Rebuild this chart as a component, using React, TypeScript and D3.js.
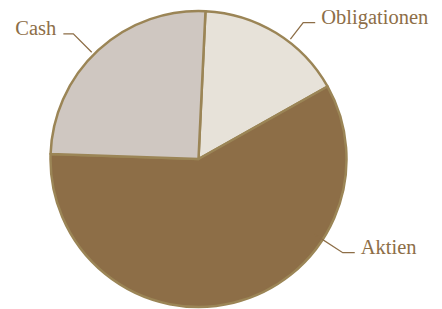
import { arc, pie } from 'd3'

const width = 442
const height = 309
const centerX = 198.5
const centerY = 159
const radius = 148

// slices in clockwise order, starting just right of 12 o'clock
const categories = ['Obligationen', 'Aktien', 'Cash']
const values = [16.1, 58.7, 25.2]
const colors = ['#e7e2d9', '#8d6e47', '#cfc7c1']
// where each label's connector leaves the pie, degrees clockwise from top
const labelAngles = [37.5, 123, 315]

const startAngle = (2.7 * Math.PI) / 180

const pieArc = arc<any>().innerRadius(0).outerRadius(radius)

const polar = (deg: number, r: number) => {
  const a = (deg * Math.PI) / 180
  return [Math.sin(a) * r, -Math.cos(a) * r]
}

function App() {
  const slices = pie<number>()
    .sort(null)
    .startAngle(startAngle)
    .endAngle(startAngle + 2 * Math.PI)(values)

  return (
    <svg
      width={width}
      height={height}
      style={{ position: 'absolute', left: 0, top: 0 }}
    >
      <g transform={`translate(${centerX},${centerY})`}>
        {slices.map((d, i) => (
          <path
            key={categories[i]}
            d={pieArc(d) as string}
            fill={colors[i]}
            stroke="#9b8556"
            strokeWidth={2.5}
            strokeLinejoin="round"
          />
        ))}
        {categories.map((name, i) => {
          const deg = labelAngles[i]
          const right = deg < 180
          const [x0, y0] = polar(deg, i === 1 ? radius - 10 : radius + 3)
          const [x1, y1] = polar(deg, right ? radius + 24 : radius + 29)
          const x2 = x1 + (right ? 12 : -10)
          const tx = x2 + (right ? 6 : -7)
          return (
            <g key={name}>
              <polyline
                points={`${x0},${y0} ${x1},${y1} ${x2},${y1}`}
                fill="none"
                stroke="#8d6e47"
                strokeWidth={1.3}
              />
              <text
                x={tx}
                y={y1 + 1.2}
                textAnchor={right ? 'start' : 'end'}
                fontFamily="'Liberation Serif', serif"
                fontSize={20.5}
                fill="#8d6e47"
              >
                {name}
              </text>
            </g>
          )
        })}
      </g>
    </svg>
  )
}

export default App
